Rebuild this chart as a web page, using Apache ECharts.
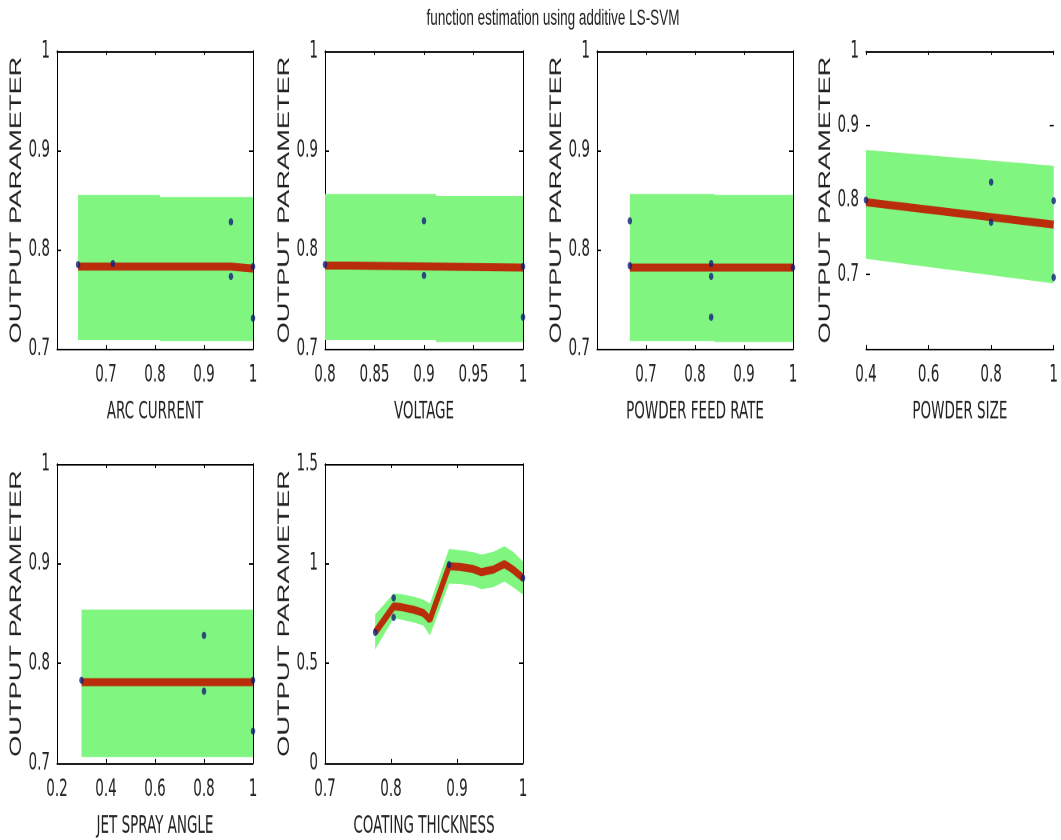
<!DOCTYPE html>
<html>
<head>
<meta charset="utf-8">
<script src="https://cdn.jsdelivr.net/npm/echarts@6/dist/echarts.min.js"></script>
<style>
html,body{margin:0;padding:0;background:#fff;overflow:hidden;width:1061px;height:840px}
#wrap{width:1061px;height:840px;overflow:hidden;position:relative}
#c{width:1061px;height:525px;transform:scaleY(1.6);transform-origin:0 0}
</style>
</head>
<body>
<div id="wrap"><div id="c"></div></div>
<script>
// ---------- texts ----------
const chartTitle = 'function estimation using additive LS-SVM';
const yName = 'OUTPUT PARAMETER';
const xNames = ['ARC CURRENT', 'VOLTAGE', 'POWDER FEED RATE', 'POWDER SIZE', 'JET SPRAY ANGLE', 'COATING THICKNESS'];

// ---------- axis ranges [min, max, interval] ----------
const xRanges = [[0.6, 1, 0.1], [0.8, 1, 0.05], [0.6, 1, 0.1], [0.4, 1, 0.2], [0.2, 1, 0.2], [0.7, 1, 0.1]];
const yRanges = [[0.7, 1, 0.1], [0.7, 1, 0.1], [0.7, 1, 0.1], [0.6, 1, 0.1], [0.7, 1, 0.1], [0, 1.5, 0.5]];
const hideXMin = [true, false, true, false, false, false];
const hideYMin = [false, false, false, true, false, false];

// ---------- ARC CURRENT ----------
const arcBandX = [0.643, 0.81, 0.81, 1.0];
const arcBandUp = [0.855, 0.855, 0.853, 0.853];
const arcBandLo = [0.709, 0.709, 0.708, 0.708];
const arcFitX = [0.643, 0.955, 0.955, 1.0];
const arcFitY = [0.783, 0.783, 0.781, 0.781];
const arcPtX = [0.643, 0.714, 0.955, 0.955, 1.0, 1.0];
const arcPtY = [0.785, 0.786, 0.828, 0.773, 0.783, 0.731];

// ---------- VOLTAGE ----------
const volBandX = [0.8, 0.912, 0.912, 1.0];
const volBandUp = [0.856, 0.856, 0.854, 0.854];
const volBandLo = [0.709, 0.709, 0.707, 0.707];
const volFitX = [0.8, 0.826, 0.826, 1.0];
const volFitY = [0.784, 0.784, 0.782, 0.782];
const volPtX = [0.8, 0.9, 0.9, 1.0, 1.0];
const volPtY = [0.785, 0.829, 0.774, 0.783, 0.732];

// ---------- POWDER FEED RATE ----------
const pfrBandX = [0.667, 0.84, 0.84, 1.0];
const pfrBandUp = [0.856, 0.856, 0.855, 0.855];
const pfrBandLo = [0.708, 0.708, 0.707, 0.707];
const pfrFitX = [0.667, 1.0];
const pfrFitY = [0.782, 0.782];
const pfrPtX = [0.667, 0.667, 0.833, 0.833, 0.833, 1.0];
const pfrPtY = [0.829, 0.784, 0.786, 0.773, 0.732, 0.782];

// ---------- POWDER SIZE ----------
const psBandX = [0.4, 1.0];
const psBandUp = [0.867, 0.846];
const psBandLo = [0.721, 0.688];
const psFitX = [0.4, 1.0];
const psFitY = [0.797, 0.767];
const psPtX = [0.4, 0.8, 0.8, 1.0, 1.0];
const psPtY = [0.800, 0.824, 0.770, 0.799, 0.696];

// ---------- JET SPRAY ANGLE ----------
const jsaBandX = [0.3, 1.0];
const jsaBandUp = [0.854, 0.854];
const jsaBandLo = [0.706, 0.706];
const jsaFitX = [0.3, 1.0];
const jsaFitY = [0.781, 0.781];
const jsaPtX = [0.3, 0.8, 0.8, 1.0, 1.0];
const jsaPtY = [0.783, 0.828, 0.772, 0.783, 0.732];

// ---------- COATING THICKNESS ----------
const ctX = [0.776, 0.804, 0.814, 0.834, 0.849, 0.859, 0.888, 0.905, 0.925, 0.937, 0.955, 0.972, 0.985, 1.0];
const ctFit = [0.655, 0.786, 0.783, 0.769, 0.753, 0.719, 0.987, 0.983, 0.973, 0.957, 0.970, 0.998, 0.970, 0.928];
const ctUp = [0.745, 0.850, 0.848, 0.835, 0.820, 0.800, 1.075, 1.068, 1.058, 1.045, 1.060, 1.088, 1.060, 1.010];
const ctLo = [0.570, 0.725, 0.720, 0.705, 0.690, 0.640, 0.900, 0.898, 0.888, 0.872, 0.882, 0.910, 0.882, 0.845];
const ctPtX = [0.776, 0.804, 0.804, 0.888, 1.0];
const ctPtY = [0.655, 0.828, 0.730, 0.995, 0.928];

// ---------- assembly ----------
const panelData = [
  [arcBandX, arcBandUp, arcBandLo, arcFitX, arcFitY, arcPtX, arcPtY],
  [volBandX, volBandUp, volBandLo, volFitX, volFitY, volPtX, volPtY],
  [pfrBandX, pfrBandUp, pfrBandLo, pfrFitX, pfrFitY, pfrPtX, pfrPtY],
  [psBandX, psBandUp, psBandLo, psFitX, psFitY, psPtX, psPtY],
  [jsaBandX, jsaBandUp, jsaBandLo, jsaFitX, jsaFitY, jsaPtX, jsaPtY],
  [ctX, ctUp, ctLo, ctX, ctFit, ctPtX, ctPtY]
];

const S = 1.6;
const cols = [[57, 253], [325, 523], [597, 793], [866, 1060]];
const rows = [[51, 349], [464, 763]];
const place = [[0, 0], [0, 1], [0, 2], [0, 3], [1, 0], [1, 1]];
const NARROW = "'Liberation Sans Narrow', 'Arial Narrow', 'DejaVu Sans Condensed', sans-serif";
const SANS = "'Liberation Sans', Arial, sans-serif";
const TXT = '#222';

const grid = [], xAxis = [], yAxis = [], series = [];
const zip = (a, b) => a.map((v, i) => [v, b[i]]);

panelData.forEach((pd, i) => {
  const [bx, bu, bl, fx, fy, px, py] = pd;
  const r = rows[place[i][0]], c = cols[place[i][1]];
  grid.push({ left: c[0], width: c[1] - c[0], top: r[0] / S, height: (r[1] - r[0]) / S });
  const xr = xRanges[i], yr = yRanges[i];
  const isP4 = i === 3;
  xAxis.push({
    type: 'value', gridIndex: i, position: 'bottom', min: xr[0], max: xr[1], interval: xr[2],
    name: xNames[i], nameLocation: 'middle', nameGap: 32,
    nameTextStyle: { fontFamily: NARROW, fontSize: 15, color: TXT },
    axisLine: { show: true, onZero: false, lineStyle: { color: '#000', width: 1 } },
    axisTick: { show: true, inside: true, length: 2.5, lineStyle: { color: '#000' } },
    axisLabel: { margin: 9, fontFamily: NARROW, fontSize: 15, color: TXT, showMinLabel: !hideXMin[i] },
    splitLine: { show: false }
  });
  xAxis.push({
    type: 'value', gridIndex: i, position: 'top', min: xr[0], max: xr[1], interval: xr[2],
    axisLine: { show: true, onZero: false, lineStyle: { color: '#000', width: 1 } },
    axisTick: { show: true, inside: true, length: 2.5, lineStyle: { color: '#000' } },
    axisLabel: { show: false }, splitLine: { show: false }
  });
  yAxis.push({
    type: 'value', gridIndex: i, position: 'left', min: yr[0], max: yr[1], interval: yr[2],
    name: yName, nameLocation: 'middle', nameGap: 29, nameRotate: 90,
    nameTextStyle: { fontFamily: SANS, fontSize: 17, color: TXT },
    axisLine: { show: !isP4, onZero: false, lineStyle: { color: '#000', width: 1 } },
    axisTick: { show: true, inside: true, length: 4, lineStyle: { color: '#000' } },
    axisLabel: { margin: 7, fontFamily: NARROW, fontSize: 15, color: TXT, showMinLabel: !hideYMin[i] },
    splitLine: { show: false }
  });
  yAxis.push({
    type: 'value', gridIndex: i, position: 'right', min: yr[0], max: yr[1], interval: yr[2],
    axisLine: { show: !isP4, onZero: false, lineStyle: { color: '#000', width: 1 } },
    axisTick: { show: true, inside: true, length: 4, lineStyle: { color: '#000' } },
    axisLabel: { show: false }, splitLine: { show: false }
  });
  const xi = 2 * i, yi = 2 * i;
  series.push({
    type: 'custom', xAxisIndex: xi, yAxisIndex: yi, silent: true, z: 1,
    data: [[bx[0], bl[0]]],
    renderItem: function (params, api) {
      const pts = [];
      for (let k = 0; k < bx.length; k++) pts.push(api.coord([bx[k], bu[k]]));
      for (let k = bx.length - 1; k >= 0; k--) pts.push(api.coord([bx[k], bl[k]]));
      return { type: 'polygon', shape: { points: pts }, style: { fill: '#80f680', stroke: null } };
    }
  });
  series.push({
    type: 'line', xAxisIndex: xi, yAxisIndex: yi, silent: true, z: 2,
    data: zip(fx, fy), symbol: 'none', smooth: false,
    lineStyle: { color: '#b92d0a', width: 5 }
  });
  series.push({
    type: 'scatter', xAxisIndex: xi, yAxisIndex: yi, silent: true, z: 3,
    data: zip(px, py), symbol: 'circle', symbolSize: 4.5,
    itemStyle: { color: '#10207a' }
  });
});

const chart = echarts.init(document.getElementById('c'), null, { renderer: 'canvas', devicePixelRatio: 2 });
chart.setOption({
  animation: false,
  backgroundColor: '#fff',
  title: {
    text: chartTitle, left: 553, top: 5, textAlign: 'center', padding: 0,
    textStyle: { fontFamily: SANS, fontSize: 13.5, fontWeight: 'normal', color: TXT }
  },
  grid: grid, xAxis: xAxis, yAxis: yAxis, series: series
});
</script>
</body>
</html>
